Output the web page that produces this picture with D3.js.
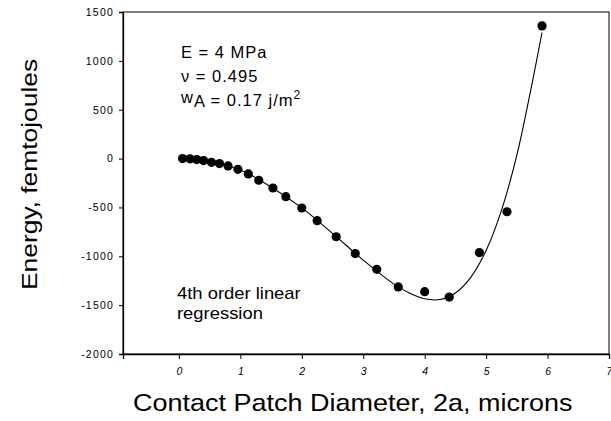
<!DOCTYPE html>
<html>
<head>
<meta charset="utf-8">
<script src="https://cdn.jsdelivr.net/npm/d3@7"></script>
<style>
  body { margin: 0; background: #fff; }
  svg { font-family: "Liberation Sans", Arial, sans-serif; }
  .tick text { font-size: 10.5px; fill: #000; letter-spacing: 1.2px; }
</style>
</head>
<body>
<svg id="plot" width="611" height="421"></svg>
<script>
// measured points
var diameter = [0.06, 0.18, 0.29, 0.40, 0.53, 0.66, 0.80, 0.96, 1.13, 1.30, 1.53, 1.74,
                2.00, 2.25, 2.56, 2.87, 3.22, 3.57, 4.00, 4.40, 4.89, 5.34, 5.91];
var energy = [0, -3, -10, -20, -38, -51, -75, -110, -157, -222, -301, -390,
              -506, -636, -800, -972, -1133, -1314, -1362, -1417, -962, -544, 1358];

// 4th order regression line
var fitX = [0.06, 0.5, 1.0, 1.5, 2.0, 2.5, 3.0, 3.5, 3.75, 4.0, 4.25, 4.5, 4.75,
            5.0, 5.25, 5.5, 5.75, 5.91];
var fitY = [5, -30, -118, -290, -505, -765, -1040, -1285, -1375, -1435, -1442, -1375, -1215,
            -940, -530, 35, 775, 1290];

var xTicks = [0, 1, 2, 3, 4, 5, 6, 7];
var yTicks = [-2000, -1500, -1000, -500, 0, 500, 1000, 1500];

const plot = d3.select("svg#plot");
const mLeft = 123, mRight = 609, mTop = 12, mBottom = 354;

let x = d3.scaleLinear().domain([-0.91, 7]).range([mLeft, mRight]);
let y = d3.scaleLinear().domain([-2000, 1500]).range([mBottom, mTop]);

// frame
plot.append("rect")
    .attr("x", mLeft)
    .attr("y", mTop)
    .attr("width", mRight - mLeft)
    .attr("height", mBottom - mTop)
    .attr("fill", "none")
    .attr("stroke", "#000")
    .attr("stroke-width", 1);

let xAxis = d3.axisBottom(x).tickValues(xTicks).tickSize(5).tickPadding(9).tickFormat(d3.format("d"));
let gx = plot.append("g")
    .attr("transform", "translate(0," + mBottom + ")")
    .call(xAxis);
gx.select(".domain").attr("stroke-width", 1.3);
gx.selectAll(".tick text").style("font-style", "italic").style("letter-spacing", "0px");

let yAxis = d3.axisLeft(y).tickValues(yTicks).tickSize(4).tickPadding(5)
    .tickFormat(d => d < 0 ? "-" + Math.abs(d) : d);
let gy = plot.append("g")
    .attr("transform", "translate(" + mLeft + ",0)")
    .call(yAxis);
gy.select(".domain").attr("stroke-width", 1.3);

// regression line
let line = d3.line()
    .x((d, i) => x(fitX[i]))
    .y(d => y(d))
    .curve(d3.curveCatmullRom);
plot.append("path")
    .attr("d", line(fitY))
    .attr("fill", "none")
    .attr("stroke", "#000")
    .attr("stroke-width", 1.1);

// points
plot.append("g")
    .selectAll("circle")
    .data(energy)
    .join("circle")
    .attr("cx", (d, i) => x(diameter[i]))
    .attr("cy", d => y(d))
    .attr("r", 4.6)
    .attr("fill", "#000");

// annotations
let notes = plot.append("g").style("font-size", "16.5px").style("letter-spacing", "1px");
notes.append("text").attr("x", 181).attr("y", 58).text("E = 4 MPa");
notes.append("text").attr("x", 181).attr("y", 82).text("\u03bd = 0.495");
let w = notes.append("text").attr("x", 181).attr("y", 106);
w.append("tspan").attr("dy", -3).text("w");
w.append("tspan").attr("dy", 4).text("A");
w.append("tspan").attr("dy", -1).text(" = 0.17 j/m");
w.append("tspan").attr("dy", -7).style("font-size", "12px").text("2");

let reg = plot.append("g").style("font-size", "16px");
reg.append("text").attr("transform", "translate(177,299) scale(1.15,1)").text("4th order linear");
reg.append("text").attr("transform", "translate(177,319) scale(1.15,1)").text("regression");

// axis titles (the scan is a bit wide, so stretch the glyphs)
plot.append("text")
    .attr("transform", "translate(133,411) scale(1.125,1)")
    .style("font-size", "24px")
    .text("Contact Patch Diameter, 2a, microns");

plot.append("text")
    .attr("transform", "translate(37,290) rotate(-90) scale(1.2,1)")
    .style("font-size", "22px")
    .text("Energy, femtojoules");
</script>
</body>
</html>
